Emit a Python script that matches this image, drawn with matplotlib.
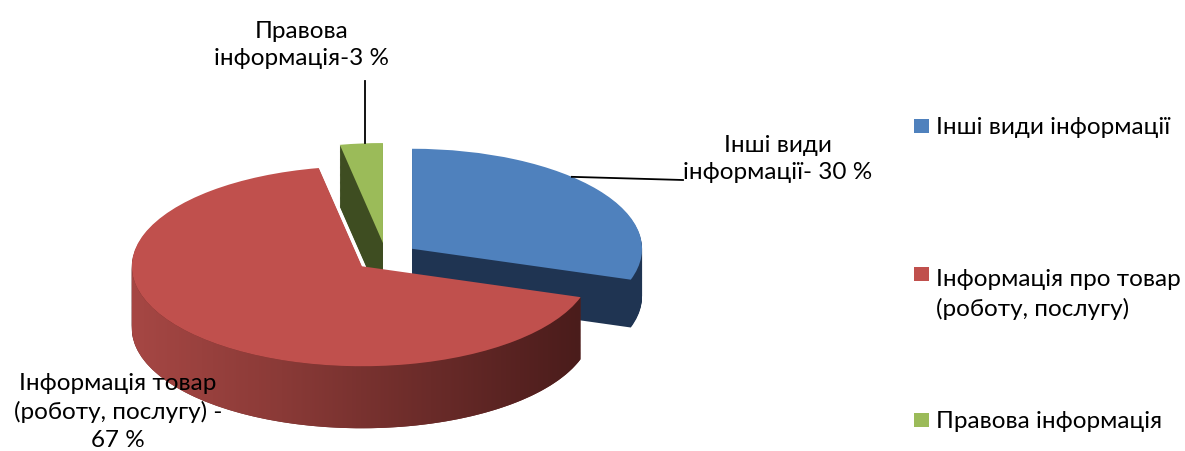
import numpy as np
import matplotlib
matplotlib.use("Agg")
import matplotlib.pyplot as plt
from matplotlib.patches import Polygon, Rectangle
from matplotlib.colors import LinearSegmentedColormap

plt.rcParams['font.family'] = ['Lato', 'DejaVu Sans']

# ---- data ----
categories = ["Інші види інформації", "Інформація про товар\n(роботу, послугу)", "Правова інформація"]
values = [30, 67, 3]
slice_labels = ["Інші види\nінформації- 30 %", "Інформація товар\n(роботу, послугу) -\n67 %", "Правова\nінформація-3 %"]
top_colors = ["#4f81bd", "#c0504d", "#9bbb59"]
side_colors = ["#1f3452", "#6a2927", "#3e4d21"]

# ---- geometry (pixel based layout) ----
W, H = 1185, 452
CX, CY = 386, 258      # pie centre in pixels
RX, RY = 230, 100      # ellipse radii in pixels
DEPTH = 62 / RY        # depth in data units (front)
SLICE_DEPTH = [48 / RY, 62 / RY, 62 / RY]
EXPL = 0.14

fig = plt.figure(figsize=(W / 100, H / 100), dpi=100)
ax = fig.add_axes([0, 0, 1, 1])

def px(x, y):
    return (x - CX) / RX, (CY - y) / RY

explode = [EXPL] * len(values)

# side walls: stacked layers
n_layers = 70
for d in np.linspace(DEPTH, 0, n_layers, endpoint=False):
    ws, _ = ax.pie(values, startangle=90, counterclock=False, colors=side_colors,
                   explode=explode, center=(0, -d), radius=1,
                   wedgeprops=dict(linewidth=0, antialiased=True))
    for w, sd in zip(ws, SLICE_DEPTH):
        if d > sd:
            w.set_visible(False)

# slice angles
total = sum(values)
angles = []
a = 90.0
for v in values:
    a2 = a - 360.0 * v / total
    angles.append((a, a2))
    a = a2

# gradient on the red front wall
r_start, r_end = angles[1]
mid = np.deg2rad((r_start + r_end) / 2)
rcx, rcy = EXPL * np.cos(mid), EXPL * np.sin(mid)
th = np.deg2rad(np.linspace(-180, r_start, 200))
top_arc = np.column_stack([rcx + np.cos(th), rcy + np.sin(th)])
bot_arc = np.column_stack([rcx + np.cos(th), rcy + np.sin(th) - SLICE_DEPTH[1]])
poly = Polygon(np.vstack([top_arc, bot_arc[::-1]]), closed=True,
               transform=ax.transData, facecolor='none', edgecolor='none')
ax.add_patch(poly)
grad_cmap = LinearSegmentedColormap.from_list(
    "wall", ["#a64744", "#8a3a37", "#6a2b29", "#4a1c1b"])
gx = np.linspace(0, 1, 256).reshape(1, -1)
x0, x1 = rcx - 1.0, rcx + np.cos(np.deg2rad(r_start))
im = ax.imshow(gx, cmap=grad_cmap, aspect='auto',
               extent=[x0, x1, rcy - 1 - DEPTH - 0.05, rcy + 0.2],
               interpolation='bilinear', zorder=1.5)
im.set_clip_path(poly)

# top surfaces
wedges, _ = ax.pie(values, startangle=90, counterclock=False, colors=top_colors,
                   explode=explode, center=(0, 0), radius=1,
                   wedgeprops=dict(linewidth=0, antialiased=True))
for w in wedges:
    w.set_zorder(2)

ax.set_aspect('auto')
ax.set_xlim(-CX / RX, (W - CX) / RX)
ax.set_ylim((CY - H) / RY, CY / RY)
ax.axis('off')

FS = 17.5
LS = 1.4

def slice_point(i, ang_deg):
    s, e = angles[i]
    m = np.deg2rad((s + e) / 2)
    ox, oy = EXPL * np.cos(m), EXPL * np.sin(m)
    t = np.deg2rad(ang_deg)
    return ox + np.cos(t), oy + np.sin(t)

# label for blue slice
bx, by = slice_point(0, (angles[0][0] + angles[0][1]) / 2 + 10)
lx, ly = px(683, 181)
ax.plot([bx, lx], [by, ly], color='black', lw=1.3, zorder=5)
ax.text(*px(778, 159), slice_labels[0], ha='center', va='center', fontsize=FS,
        linespacing=LS, zorder=6)

# label for green slice
gx_, gy_ = slice_point(2, (angles[2][0] + angles[2][1]) / 2 - 1)
ax.plot([gx_, gx_], [gy_, px(0, 82)[1]], color='black', lw=1.3, zorder=5)
ax.text(*px(302, 45), slice_labels[2], ha='center', va='center', fontsize=FS,
        linespacing=LS, zorder=6)

# label for red slice
ax.text(*px(118, 412), slice_labels[1], ha='center', va='center', fontsize=FS,
        linespacing=LS, zorder=6)

# legend (manual)
leg_y = [127, 275, 421]
LEG_LINE = 34
for lab, col, y in zip(categories, top_colors, leg_y):
    fig.patches.append(Rectangle((914 / W, (H - y - 7) / H), 15 / W, 14 / H,
                                 transform=fig.transFigure, facecolor=col,
                                 edgecolor='none'))
    nlines = lab.count('\n') + 1
    base_last = y + 7 + (nlines - 1) * LEG_LINE
    fig.text(936 / W, (H - base_last) / H, lab, ha='left', va='baseline',
             fontsize=FS, linespacing=1.45)

fig.savefig("out.png", dpi=100)
